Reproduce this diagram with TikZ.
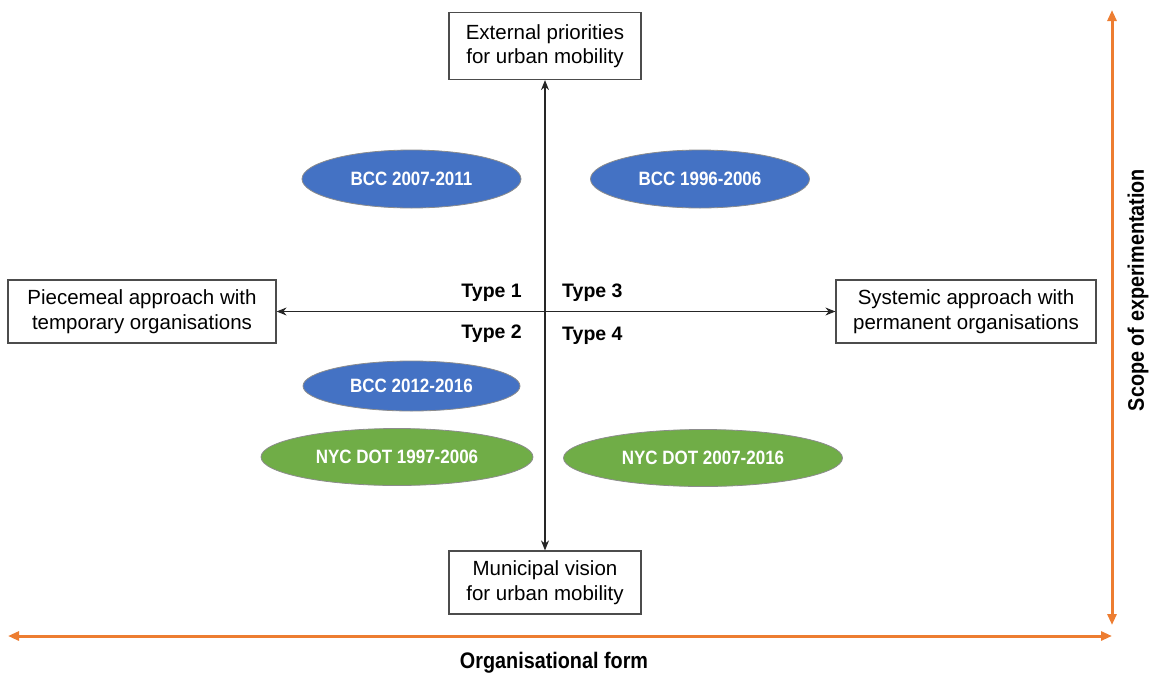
\documentclass[tikz,border=0pt]{standalone}
\usepackage{fontspec}
\setmainfont{Liberation Sans}
\newfontfamily\narrowfont[FakeStretch=0.88]{Liberation Sans}
\usepackage{tikz}
\usetikzlibrary{positioning,shapes.geometric,arrows.meta}
\definecolor{ovblue}{HTML}{4472C4}
\definecolor{ovgreen}{HTML}{70AD47}
\definecolor{axorange}{HTML}{ED7D31}
\tikzset{
  % --- boxes at the ends of the two axes ---------------------------------------
  box/.style={rectangle,draw=black!70,line width=1.2pt,align=center,
              inner sep=0pt,minimum height=63pt,
              font=\fontsize{20.5}{24.5}\selectfont},
  % --- case ovals ----------------------------------------------------------------
  oval/.style={ellipse,draw=black!45,line width=0.8pt,inner sep=0pt,
               text=white,font=\narrowfont\bfseries\fontsize{19.3}{22}\selectfont},
  bccov/.style={oval,fill=ovblue},
  nycov/.style={oval,fill=ovgreen},
  typ/.style={inner sep=0pt,font=\bfseries\fontsize{19.5}{22}\selectfont},
  axlab/.style={inner sep=0pt,font=\narrowfont\bfseries\fontsize{22.5}{26}\selectfont},
}

\begin{document}
\begin{tikzpicture}[
    x=1pt, y=-1pt,
    link/.style={{Stealth[length=10pt,width=8pt]}-{Stealth[length=10pt,width=8pt]},
                 line width=1.2pt,black!85},
    orax/.style={{Triangle[length=11pt,width=9pt]}-{Triangle[length=11pt,width=9pt]},
                 line width=3pt,axorange}]
  \useasboundingbox (0,0) rectangle (1149,673);

  \node[box,minimum width=192pt,minimum height=67pt] (ext) at (545,46)
       {External priorities\\for urban mobility};
  \node[box,minimum width=192pt] (mun) at (545,582.5)
       {Municipal vision\\for urban mobility};
  \node[box,minimum width=268pt] (piece) at (142,311.5)
       {Piecemeal approach with\\temporary organisations};
  \node[box,minimum width=260pt] (syst) at (966,311.5)
       {Systemic approach with\\permanent organisations};

  \draw[link] (ext) -- (mun);
  \draw[link] (piece) -- (syst);

  \node[typ,anchor=east] (t1) at (522,293) {Type 1};
  \node[typ,anchor=east] (t2) at (522,334) {Type 2};
  \node[typ,anchor=west] (t3) at (562,293) {Type 3};
  \node[typ,anchor=west] (t4) at (562,336) {Type 4};

  \node[bccov,minimum width=219pt,minimum height=58pt] (bcca) at (411.5,179) {BCC 2007-2011};
  \node[bccov,minimum width=219pt,minimum height=58pt] (bccb) at (700,179) {BCC 1996-2006};
  \node[bccov,minimum width=217pt,minimum height=50pt] (bccc) at (411.5,386) {BCC 2012-2016};
  \node[nycov,minimum width=272pt,minimum height=57pt] (nyca) at (397,457) {NYC DOT 1997-2006};
  \node[nycov,minimum width=279pt,minimum height=57pt] (nycb) at (703,458) {NYC DOT 2007-2016};

  % orange axes
  \coordinate (vtop) at (1112,10);
  \coordinate (vbot) at (1112,625);
  \coordinate (hl) at (8,636);
  \coordinate (hr) at (1112,636);
  \draw[orax] (vtop) -- (vbot);
  \draw[orax] (hl) -- (hr);

  \node[axlab,rotate=90] (scope) at (1138,290) {Scope of experimentation};
  \node[axlab] (form) at (554,663) {Organisational form};
\end{tikzpicture}
\end{document}
